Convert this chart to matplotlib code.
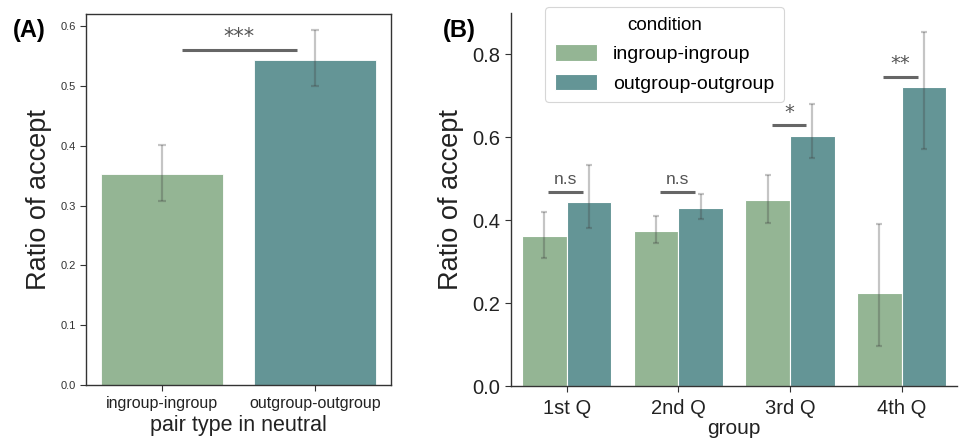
import matplotlib
matplotlib.use("Agg")
import matplotlib.pyplot as plt
import numpy as np

plt.rcParams['font.family'] = ['Liberation Sans', 'DejaVu Sans']

# ---------------- data ----------------
pair_types = ["ingroup-ingroup", "outgroup-outgroup"]
a_values = [0.353, 0.543]
a_lower = [0.308, 0.499]
a_upper = [0.401, 0.594]

groups = ["1st Q", "2nd Q", "3rd Q", "4th Q"]
conditions = ["ingroup-ingroup", "outgroup-outgroup"]
in_values = [0.362, 0.373, 0.449, 0.224]
in_lower = [0.308, 0.346, 0.394, 0.097]
in_upper = [0.420, 0.410, 0.510, 0.390]
out_values = [0.443, 0.430, 0.604, 0.722]
out_lower = [0.381, 0.404, 0.549, 0.572]
out_upper = [0.532, 0.463, 0.680, 0.855]

a_sig_label = "***"
b_sig_labels = ["n.s", "n.s", "*", "**"]
b_sig_heights = [0.467, 0.467, 0.630, 0.746]

colors = ["#94b594", "#649596"]
err_color = (0.25, 0.25, 0.25, 0.3)
spine_color = "#333333"

fig = plt.figure(figsize=(9.66, 4.41), dpi=100)

# ---------------- panel A ----------------
axA = fig.add_axes([0.089, 0.127, 0.316, 0.841])
xa = np.arange(len(pair_types))
axA.bar(xa, a_values, width=0.8, color=colors, edgecolor='white', linewidth=0.6, zorder=2)
a_err = [np.array(a_values) - np.array(a_lower), np.array(a_upper) - np.array(a_values)]
axA.errorbar(xa, a_values, yerr=a_err, fmt='none', ecolor=err_color, elinewidth=1.6,
             capsize=3, capthick=1.6, zorder=3)
axA.set_xlim(-0.5, 1.5)
axA.set_ylim(0, 0.62)
axA.set_yticks([0.0, 0.1, 0.2, 0.3, 0.4, 0.5, 0.6])
axA.set_yticklabels([f"{v:.1f}" for v in [0.0, 0.1, 0.2, 0.3, 0.4, 0.5, 0.6]])
axA.set_xticks(xa)
axA.set_xticklabels(pair_types, fontsize=11.5, color='#222222')
axA.tick_params(axis='y', labelsize=8, colors='#333333', length=4)
axA.tick_params(axis='x', length=4, colors='#333333', labelcolor='#222222', pad=4)
axA.set_ylabel("Ratio of accept", fontsize=19.5, color='#222222', labelpad=6)
axA.set_xlabel("pair type in neutral", fontsize=15.5, color='#222222', labelpad=3)
for s in axA.spines.values():
    s.set_color(spine_color)
    s.set_linewidth(1.0)
axA.plot([0.13, 0.88], [0.56, 0.56], color='#666666', lw=2.2, solid_capstyle='butt', zorder=4)
axA.text(0.505, 0.565, a_sig_label, ha='center', va='bottom', fontsize=15,
         color='#555555', family='DejaVu Sans')
fig.text(0.013, 0.93, "(A)", fontsize=17, fontweight='bold', ha='left', va='center')

# ---------------- panel B ----------------
axB = fig.add_axes([0.529, 0.1247, 0.462, 0.846])
xb = np.arange(len(groups))
w = 0.4
axB.bar(xb - w / 2, in_values, width=w, color=colors[0], edgecolor='white', linewidth=0.8,
        label=conditions[0], zorder=2)
axB.bar(xb + w / 2, out_values, width=w, color=colors[1], edgecolor='white', linewidth=0.8,
        label=conditions[1], zorder=2)
in_err = [np.array(in_values) - np.array(in_lower), np.array(in_upper) - np.array(in_values)]
out_err = [np.array(out_values) - np.array(out_lower), np.array(out_upper) - np.array(out_values)]
axB.errorbar(xb - w / 2, in_values, yerr=in_err, fmt='none', ecolor=err_color, elinewidth=1.6,
             capsize=2.5, capthick=1.6, zorder=3)
axB.errorbar(xb + w / 2, out_values, yerr=out_err, fmt='none', ecolor=err_color, elinewidth=1.6,
             capsize=2.5, capthick=1.6, zorder=3)
axB.set_xlim(-0.5, 3.5)
axB.set_ylim(0, 0.9)
axB.set_yticks([0.0, 0.2, 0.4, 0.6, 0.8])
axB.set_yticklabels([f"{v:.1f}" for v in [0.0, 0.2, 0.4, 0.6, 0.8]])
axB.set_xticks(xb)
axB.set_xticklabels(groups)
axB.tick_params(axis='both', labelsize=14.5, colors='#333333', labelcolor='#222222', length=4)
axB.tick_params(axis='x', pad=5)
axB.set_ylabel("Ratio of accept", fontsize=19.5, color='#222222', labelpad=6)
axB.set_xlabel("group", fontsize=15, color='#222222', labelpad=1)
axB.spines['top'].set_visible(False)
axB.spines['right'].set_visible(False)
for s in ['left', 'bottom']:
    axB.spines[s].set_color(spine_color)
    axB.spines[s].set_linewidth(1.0)
for i, (lab, h) in enumerate(zip(b_sig_labels, b_sig_heights)):
    axB.plot([i - 0.165, i + 0.145], [h, h], color='#666666', lw=2.2, solid_capstyle='butt', zorder=4)
    if '*' in lab:
        axB.text(i - 0.01, h + 0.008, lab, ha='center', va='bottom', fontsize=14,
                 color='#555555', family='DejaVu Sans')
    else:
        axB.text(i - 0.01, h + 0.012, lab, ha='center', va='bottom', fontsize=12.5,
                 color='#555555')
leg = axB.legend(title="condition", loc='upper left', bbox_to_anchor=(0.076, 1.016),
                 borderaxespad=0, fontsize=14, title_fontsize=13.5, frameon=True,
                 handlelength=2.2, handleheight=0.9, labelspacing=0.55, borderpad=0.5)
leg.get_frame().set_edgecolor('#cccccc')
leg.get_frame().set_linewidth(0.8)
fig.text(0.458, 0.93, "(B)", fontsize=17, fontweight='bold', ha='left', va='center')

fig.savefig("out.png", dpi=100)
